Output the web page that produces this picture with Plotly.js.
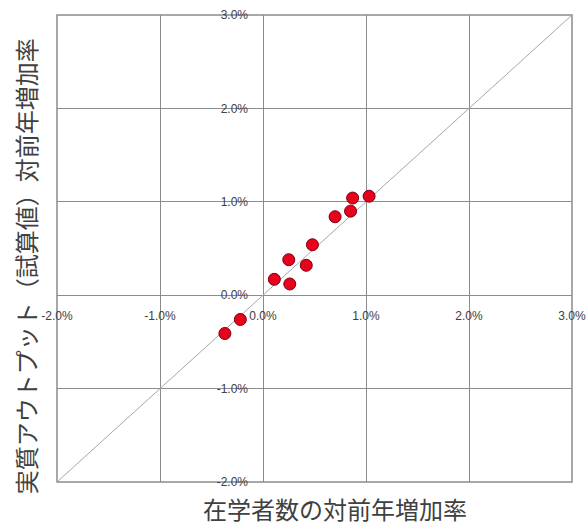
<!DOCTYPE html>
<html>
<head>
<meta charset="utf-8">
<script src="https://cdn.plot.ly/plotly-3.0.1.min.js"></script>
<style>html,body{margin:0;padding:0;background:#fff;}#chart{width:588px;height:526px;}</style>
</head>
<body>
<div id="chart"></div>
<script>
// 在学者数の対前年増加率 (x) vs 実質アウトプット（試算値）対前年増加率 (y)
const enrollGrowth = [0.0103, 0.0087, 0.0085, 0.0070, 0.0048, 0.0025, 0.0042, 0.0011, 0.0026, -0.0022, -0.0037];
const outputGrowth = [0.0106, 0.0104, 0.0090, 0.0084, 0.0054, 0.0038, 0.0032, 0.0017, 0.0012, -0.0026, -0.0041];
const diagX = [-0.02, 0.03];
const diagY = [-0.02, 0.03];
const tickVals = [-0.02, -0.01, 0, 0.01, 0.02, 0.03];
const tickText = ["-2.0%", "-1.0%", "0.0%", "1.0%", "2.0%", "3.0%"];
const xTitle = "在学者数の対前年増加率";
const yTitle = "実質アウトプット（試算値）対前年増加率";

const traces = [
  {x: diagX, y: diagY, type: 'scatter', mode: 'lines',
   line: {color: '#a6a6a6', width: 1}, hoverinfo: 'skip', showlegend: false},
  {x: enrollGrowth, y: outputGrowth, type: 'scatter', mode: 'markers',
   marker: {color: '#e8001c', size: 12, line: {color: '#7a0010', width: 1}}, showlegend: false}
];

const tickFont = {family: 'Liberation Sans, Arial, sans-serif', size: 12, color: '#404040'};
const layout = {
  width: 588, height: 526,
  margin: {l: 57, r: 16, t: 15, b: 44},
  paper_bgcolor: '#fff', plot_bgcolor: '#fff',
  showlegend: false,
  xaxis: {
    range: [-0.02, 0.03], tickvals: tickVals, ticktext: tickText,
    showgrid: true, gridcolor: '#8c8c8c', gridwidth: 1,
    zeroline: false, showline: false,
    anchor: 'free', position: 0.4,
    ticks: '', ticklabelstandoff: 12,
    tickfont: tickFont, fixedrange: true
  },
  yaxis: {
    range: [-0.02, 0.03], tickvals: tickVals, ticktext: tickText,
    showgrid: true, gridcolor: '#8c8c8c', gridwidth: 1,
    zeroline: false, showline: false,
    anchor: 'free', position: 0.4,
    ticks: '', ticklabelstandoff: 15,
    tickfont: tickFont, fixedrange: true
  },
  shapes: [
    {type: 'rect', xref: 'paper', yref: 'paper', x0: 0, y0: 0, x1: 1, y1: 1,
     line: {color: '#8c8c8c', width: 1.5}, layer: 'below'}
  ],
  annotations: [
    {text: xTitle, xref: 'paper', yref: 'paper', x: 0.54, y: -0.056,
     xanchor: 'center', yanchor: 'middle', showarrow: false,
     font: {family: 'Noto Sans CJK JP, sans-serif', size: 24, color: '#404040'}},
    {text: yTitle, xref: 'paper', yref: 'paper', x: -0.062, y: 0.462,
     xanchor: 'center', yanchor: 'middle', showarrow: false, textangle: -90,
     font: {family: 'Noto Sans CJK JP, sans-serif', size: 24, color: '#404040'}}
  ]
};

Plotly.newPlot('chart', traces, layout, {displayModeBar: false, staticPlot: true});
</script>
</body>
</html>
